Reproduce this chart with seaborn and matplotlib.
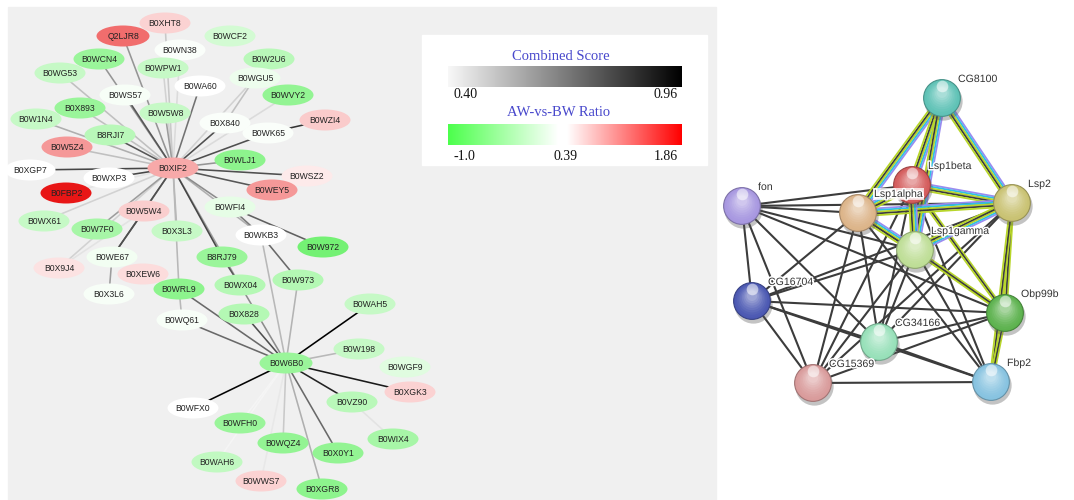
import numpy as np
import matplotlib
matplotlib.use("Agg")
import matplotlib.pyplot as plt
import seaborn as sns
import pandas as pd
from matplotlib.patches import Ellipse, Rectangle
from matplotlib.colors import LinearSegmentedColormap, to_rgb
import matplotlib.patheffects as pe

sns.set_theme(style="white")
plt.rcParams["font.family"] = ["Liberation Sans", "DejaVu Sans"]

# ---------------- co-expression network (left) ----------------
left_names = ["B0XHT8", "Q2LJR8", "B0WCF2", "B0WN38", "B0WCN4", "B0W2U6", "B0WG53",
              "B0WPW1", "B0WGU5", "B0WA60", "B0WVY2", "B0WS57", "B0X893", "B0W5W8",
              "B0W1N4", "B0X840", "B0WZI4", "B0WK65", "B8RJI7", "B0W5Z4", "B0WLJ1",
              "B0XIF2", "B0XGP7", "B0WXP3", "B0WSZ2", "B0FBP2", "B0WEY5", "B0WFI4",
              "B0W5W4", "B0WX61", "B0W7F0", "B0X3L3", "B0WKB3", "B0W972", "B8RJ79",
              "B0WE67", "B0X9J4", "B0XEW6", "B0W973", "B0WX04", "B0WRL9", "B0X3L6",
              "B0X828", "B0WQ61", "B0WAH5", "B0W198", "B0W6B0", "B0WGF9", "B0XGK3",
              "B0VZ90", "B0WFX0", "B0WFH0", "B0WIX4", "B0WQZ4", "B0X0Y1", "B0WAH6",
              "B0WWS7", "B0XGR8"]
left_x = [165, 123, 230, 180, 99, 269, 60, 163, 255, 200, 288, 125, 80, 165, 36, 225,
          325, 268, 110, 67, 240, 173, 30, 109, 307, 66, 272, 230, 144, 44, 97, 177,
          261, 323, 222, 112, 59, 143, 298, 240, 179, 109, 244, 182, 370, 359, 286,
          405, 410, 352, 193, 240, 393, 283, 338, 217, 261, 322]
left_y = [23, 36, 36, 50, 59, 59, 73, 68, 78, 86, 95, 95, 108, 113, 119, 123, 120, 133,
          135, 147, 160, 168, 170, 178, 176, 193, 190, 207, 211, 221, 229, 231, 235,
          247, 257, 257, 268, 274, 280, 285, 289, 294, 314, 320, 304, 349, 363, 367,
          392, 402, 408, 423, 439, 443, 453, 462, 481, 489]
# AW-vs-BW expression ratio of each protein
left_ratio = [0.72, 1.30, 0.00, 0.30, -0.45, -0.20, -0.10, -0.10, 0.20, 0.38, -0.50,
              0.28, -0.45, -0.10, -0.10, 0.30, 0.76, 0.30, -0.20, 1.05, -0.55, 0.95,
              0.35, 0.38, 0.58, 1.80, 1.05, 0.15, 0.74, -0.10, -0.35, -0.10, 0.39,
              -0.75, -0.45, 0.25, 0.62, 0.66, -0.25, -0.25, -0.55, 0.28, -0.25, 0.28,
              -0.10, -0.10, -0.45, 0.10, 0.72, -0.20, 0.39, -0.45, -0.35, -0.50, -0.50,
              -0.15, 0.72, -0.55]

# interaction edges: source, target, combined score
edge_src = ["B0XIF2"] * 34 + ["B0WK65", "B0WFI4", "B0WFI4", "B0WKB3", "B0WKB3", "B0W5W4",
            "B0WE67", "B0WRL9", "B8RJ79", "B0VZ90", "B0X840", "B0W5W4"] + ["B0W6B0"] * 16
edge_dst = ["B0XHT8", "Q2LJR8", "B0WN38", "B0WCN4", "B0WPW1", "B0WG53", "B0WS57", "B0WA60",
            "B0W5W8", "B0X893", "B0W1N4", "B0X840", "B0WK65", "B8RJI7", "B0W5Z4", "B0WLJ1",
            "B0WGU5", "B0WVY2", "B0WXP3", "B0XGP7", "B0WSZ2", "B0WEY5", "B0WFI4", "B0W5W4",
            "B0WE67", "B0X3L3", "B8RJ79", "B0WX04", "B0WRL9", "B0WKB3", "B0W7F0", "B0X9J4",
            "B0WX61", "B0FBP2",
            "B0WZI4", "B0WKB3", "B0W972", "B0W973", "B0W6B0", "B0WE67", "B0X3L6", "B0WQ61",
            "B0WX04", "B0WIX4", "B0WGU5", "B0X9J4",
            "B0WAH5", "B0W198", "B0XGK3", "B0VZ90", "B0WFX0", "B0WFH0", "B0WAH6", "B0WWS7",
            "B0WQZ4", "B0X0Y1", "B0XGR8", "B0WQ61", "B0WRL9", "B0X828", "B0WX04", "B0W973"]
edge_score = [0.50, 0.62, 0.46, 0.62, 0.48, 0.52, 0.76, 0.70, 0.60, 0.52, 0.56, 0.78,
              0.78, 0.76, 0.52, 0.62, 0.48, 0.46, 0.80, 0.80, 0.78, 0.76, 0.64, 0.68,
              0.78, 0.54, 0.80, 0.60, 0.54, 0.56, 0.60, 0.48, 0.48, 0.44,
              0.84, 0.68, 0.74, 0.72, 0.54, 0.76, 0.60, 0.54, 0.76, 0.44, 0.52, 0.44,
              0.96, 0.54, 0.90, 0.88, 0.95, 0.40, 0.40, 0.43, 0.50, 0.72, 0.56, 0.72,
              0.72, 0.78, 0.64, 0.55]

# legend scale ticks
score_ticks = [0.40, 0.96]
ratio_ticks = [-1.0, 0.39, 1.86]

# ---------------- STRING network (right) ----------------
right_names = ["CG8100", "Lsp1beta", "Lsp1alpha", "Lsp2", "fon", "Lsp1gamma", "CG16704",
               "Obp99b", "CG34166", "Fbp2", "CG15369"]
right_x = [942, 912, 858, 1012, 742, 915, 752, 1005, 879, 991, 813]
right_y = [98, 185, 213, 203, 206, 250, 301, 313, 342, 382, 383]
right_colors = ["#5fc2b6", "#d45c5c", "#dcb489", "#c9c272", "#a797e0", "#bede96",
                "#4b58b2", "#5db24e", "#97e0b9", "#87c3e0", "#d99b9b"]
multi_src = ["CG8100", "CG8100", "CG8100", "CG8100", "Lsp1beta", "Lsp1alpha", "Lsp1alpha",
             "Lsp1beta", "Lsp1alpha", "Lsp2"]
multi_dst = ["Lsp1alpha", "Lsp1beta", "Lsp1gamma", "Lsp2", "Lsp2", "Lsp2", "Lsp1gamma",
             "Lsp1gamma", "Lsp1beta", "Lsp1gamma"]
yellow_src = ["Lsp1gamma", "Lsp2", "Lsp2", "Obp99b", "Lsp1beta"]
yellow_dst = ["Obp99b", "Obp99b", "Fbp2", "Fbp2", "Obp99b"]
black_src = ["fon", "fon", "fon", "fon", "fon", "fon", "fon", "fon",
             "CG16704", "CG16704", "CG16704", "CG16704", "CG16704", "CG16704", "CG16704",
             "CG34166", "CG34166", "CG34166", "CG34166", "CG34166", "CG34166",
             "CG15369", "CG15369", "CG15369", "CG15369", "CG15369", "CG15369",
             "Fbp2", "Fbp2", "Fbp2", "Obp99b"]
black_dst = ["Lsp1alpha", "Lsp1beta", "Lsp2", "CG16704", "CG15369", "CG34166", "Obp99b",
             "Lsp1gamma",
             "Lsp1alpha", "Lsp1gamma", "CG34166", "CG15369", "Obp99b", "Fbp2", "Lsp2",
             "Lsp1alpha", "Lsp1beta", "Lsp1gamma", "Obp99b", "Fbp2", "Lsp2",
             "Lsp1alpha", "Lsp1beta", "Lsp1gamma", "Fbp2", "Obp99b", "Lsp2",
             "Lsp1alpha", "Lsp1beta", "Lsp1gamma", "Lsp1alpha"]

# ---------------- drawing ----------------
W, H = 1074, 500
fig = plt.figure(figsize=(W / 100, H / 100), dpi=100)
ax = fig.add_axes([0, 0, 1, 1])
ax.set_xlim(0, W)
ax.set_ylim(H, 0)
ax.axis("off")

ratio_cmap = LinearSegmentedColormap.from_list(
    "ratio", [(0.0, "#4cff4c"), (0.47, "#ffffff"), (0.51, "#ffffff"), (1.0, "#ff0000")])

def ratio_color(r):
    c = np.array(ratio_cmap((r - ratio_ticks[0]) / (ratio_ticks[-1] - ratio_ticks[0]))[:3])
    # slightly muted fill for the node ellipses
    return tuple(np.clip(c * 0.86 + c.mean() * 0.14, 0, 1))

def score_color(s):
    g = 0.96 * (1.0 - (s - score_ticks[0]) / (score_ticks[1] - score_ticks[0]))
    return (g, g, g)

# panel background
ax.add_patch(Rectangle((8, 7), 708, 493, color="#f0f0f0", zorder=0))

left = pd.DataFrame({"name": left_names, "x": left_x, "y": left_y, "ratio": left_ratio})
pos = {n: (x, y) for n, x, y in zip(left.name, left.x, left.y)}

edges = pd.DataFrame({"src": edge_src, "dst": edge_dst, "score": edge_score})
for s, d, sc in edges.sort_values("score").itertuples(index=False):
    (x0, y0), (x1, y1) = pos[s], pos[d]
    ax.plot([x0, x1], [y0, y1], color=score_color(sc), lw=1.15, zorder=1,
            solid_capstyle="butt")

for i, r in enumerate(left.itertuples(index=False)):
    w = 53 if r.name in ("Q2LJR8", "B0W6B0") else 51
    ax.add_patch(Ellipse((r.x, r.y), w, 21, facecolor=ratio_color(r.ratio),
                         edgecolor="none", zorder=2 + i * 0.01))
    ax.text(r.x, r.y + 0.5, r.name, ha="center", va="center", fontsize=6.2,
            color="#222222", zorder=3 + i * 0.01)

# legend box
ax.add_patch(Rectangle((422, 35), 285, 130, color="white", zorder=4))
bx0, bx1 = 448, 682
grad = np.linspace(0, 1, 256)[None, :]
ax.imshow(grad, extent=(bx0, bx1, 87, 66), cmap=LinearSegmentedColormap.from_list(
    "score", ["#f8f8f8", "#000000"]), aspect="auto", zorder=5)
ax.imshow(grad, extent=(bx0, bx1, 145, 124), cmap=ratio_cmap, aspect="auto", zorder=5)
ax.set_xlim(0, W)
ax.set_ylim(H, 0)
serif = ["Liberation Serif", "DejaVu Serif"]
ax.text(561, 57, "Combined Score", ha="center", va="center", fontsize=10.5,
        family=serif, color="#4848cc", zorder=6)
ax.text(559, 112, "AW-vs-BW Ratio", ha="center", va="center", fontsize=10.5,
        family=serif, color="#4848cc", zorder=6)
for v, tx, ha in zip(score_ticks, [453, 678], ["left", "right"]):
    ax.text(tx, 95, f"{v:.2f}", ha=ha, va="center", fontsize=10, family=serif,
            color="#111111", zorder=6)
for v, tx, ha, fmt in zip(ratio_ticks, [453, 566, 678], ["left", "center", "right"],
                          ["{:.1f}", "{:.2f}", "{:.2f}"]):
    ax.text(tx, 156, fmt.format(v), ha=ha, va="center", fontsize=10, family=serif,
            color="#111111", zorder=6)

# STRING network
right = pd.DataFrame({"name": right_names, "x": right_x, "y": right_y,
                      "color": right_colors})
rpos = {n: np.array([x, y], float) for n, x, y in zip(right.name, right.x, right.y)}

def strand_edge(a, b, colors, gap=2.1, lw=1.3):
    p0, p1 = rpos[a], rpos[b]
    d = p1 - p0
    nrm = np.array([-d[1], d[0]]) / np.hypot(*d)
    offs = (np.arange(len(colors)) - (len(colors) - 1) / 2) * gap
    for c, o in zip(colors, offs):
        q0, q1 = p0 + nrm * o, p1 + nrm * o
        ax.plot([q0[0], q1[0]], [q0[1], q1[1]], color=c, lw=lw, zorder=7,
                solid_capstyle="butt")

for a, b in zip(black_src, black_dst):
    strand_edge(a, b, ["#3c3c3c"], lw=1.5)
for a, b in zip(yellow_src, yellow_dst):
    strand_edge(a, b, ["#b8d62a", "#3c3c3c", "#b8d62a"], gap=1.6)
for a, b in zip(multi_src, multi_dst):
    strand_edge(a, b, ["#9a8cf0", "#2fbfe6", "#b8d62a", "#3c3c3c", "#b8d62a"], gap=1.7)

# sphere shadows, bodies and gloss
ax.scatter(right.x + 1, right.y + 3, s=760, color="#555555", alpha=0.35, lw=0, zorder=8)
sns.scatterplot(data=right, x="x", y="y", hue="name",
                palette=dict(zip(right.name, right.color)), s=700, legend=False,
                edgecolor=[tuple(0.75 * np.array(to_rgb(c))) for c in right.color],
                linewidth=0.8, ax=ax, zorder=9)
for k in range(1, 9):
    f = k / 9
    cols = [tuple(np.array(to_rgb(c)) * (1 - 0.55 * f ** 1.5) + 0.55 * f ** 1.5)
            for c in right.color]
    ax.scatter(right.x, right.y - 6.0 * f, s=700 * (1 - 0.8 * f) ** 2, color=cols,
               lw=0, zorder=9 + k * 0.01)
ax.scatter(right.x, right.y - 12, s=70, color="white", alpha=0.55, lw=0, zorder=9.5,
           marker="o")

halo = [pe.withStroke(linewidth=2.2, foreground="white")]
for r in right.itertuples(index=False):
    box = dict(facecolor="white", edgecolor="none", alpha=0.75, pad=0.6) \
        if r.name == "Lsp1alpha" else None
    ax.text(r.x + 16, r.y - 19, r.name, ha="left", va="center", fontsize=7.6,
            color="#333333", zorder=10, path_effects=halo, bbox=box)

ax.set_xlim(0, W)
ax.set_ylim(H, 0)
fig.savefig("out.png", dpi=100, facecolor="white")
